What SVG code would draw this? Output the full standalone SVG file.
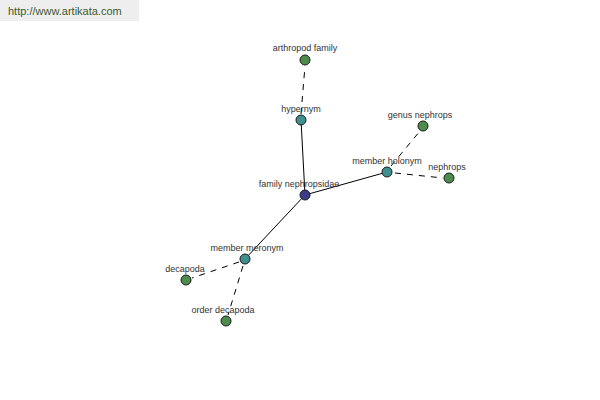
<svg xmlns="http://www.w3.org/2000/svg" width="600" height="400" viewBox="0 0 600 400">
<style>
.lbl{font-family:"Liberation Sans",Arial,sans-serif;font-size:9px;fill:#333;text-anchor:middle}
.n{stroke:#1a1a1a;stroke-width:1}
.g{fill:#4e8c4e}
.t{fill:#3f8f8f}
.b{fill:#3c3c8c}
.solid{stroke:#000;stroke-width:1;fill:none}
.dash{stroke:#000;stroke-width:1;fill:none;stroke-dasharray:6,6}
</style>
<rect x="0" y="0" width="600" height="400" fill="#fff"/>
<g id="header">
<rect x="0" y="0" width="139" height="21" fill="#eeeeee"/>
<text x="8" y="15" font-family="Liberation Sans,Arial,sans-serif" font-size="11" fill="#3d5a2e">http://www.artikata.com</text>
</g>
<g id="connectors">
<line class="solid" x1="305" y1="195" x2="301" y2="120"/>
<line class="solid" x1="305" y1="195" x2="387" y2="172"/>
<line class="solid" x1="305" y1="195" x2="245" y2="259"/>
<line class="dash" x1="301" y1="114" x2="305" y2="66"/>
<line class="dash" x1="391" y1="166" x2="420" y2="131"/>
<line class="dash" x1="395" y1="173" x2="443" y2="178"/>
<line class="dash" x1="239" y1="262" x2="192" y2="278"/>
<line class="dash" x1="243" y1="266" x2="228" y2="315"/>
</g>
<g id="arthropod-family"><circle class="n g" cx="305" cy="60" r="5"/><text class="lbl" x="305" y="51">arthropod family</text></g>
<g id="hypernym"><circle class="n t" cx="301" cy="120" r="5"/><text class="lbl" x="301" y="112">hypernym</text></g>
<g id="family-nephropsidae"><circle class="n b" cx="305" cy="195" r="5"/><text class="lbl" x="299" y="187">family nephropsidae</text></g>
<g id="member-holonym"><circle class="n t" cx="387" cy="172" r="5"/><text class="lbl" x="387" y="164">member holonym</text></g>
<g id="genus-nephrops"><circle class="n g" cx="423" cy="126" r="5"/><text class="lbl" x="420" y="118">genus nephrops</text></g>
<g id="nephrops"><circle class="n g" cx="449" cy="178" r="5"/><text class="lbl" x="447" y="170">nephrops</text></g>
<g id="member-meronym"><circle class="n t" cx="245" cy="259" r="5"/><text class="lbl" x="247" y="251">member meronym</text></g>
<g id="decapoda"><circle class="n g" cx="186" cy="280" r="5"/><text class="lbl" x="185" y="272">decapoda</text></g>
<g id="order-decapoda"><circle class="n g" cx="226" cy="321" r="5"/><text class="lbl" x="223" y="313">order decapoda</text></g>
</svg>
